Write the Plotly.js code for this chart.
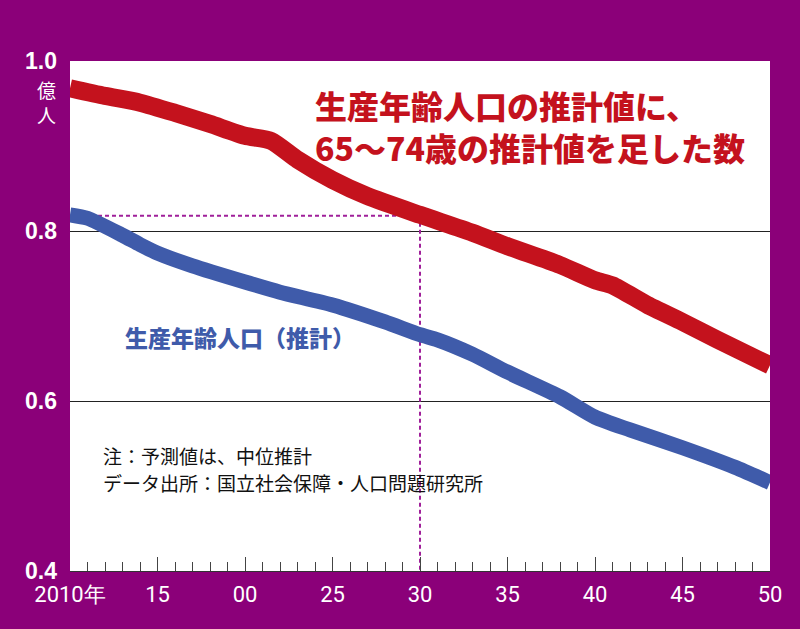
<!DOCTYPE html>
<html>
<head>
<meta charset="utf-8">
<script src="https://cdn.plot.ly/plotly-3.0.1.min.js"></script>
<style>html,body{margin:0;padding:0;background:#8B0079;}#chart{width:800px;height:629px;}</style>
</head>
<body>
<div id="chart"></div>
<script>
// Data (units: 億人)
const years = [2010, 2012, 2014, 2016, 2018, 2020, 2021.5, 2023, 2025, 2027, 2030, 2033, 2035, 2038, 2040, 2041, 2043, 2045, 2047, 2050];
const workingPlusOld = [0.968, 0.959, 0.951, 0.939, 0.926, 0.912, 0.906, 0.884, 0.860, 0.841, 0.819, 0.798, 0.782, 0.760, 0.742, 0.736, 0.713, 0.693, 0.672, 0.642];

const yearsB = [2010, 2011, 2013, 2014, 2015, 2017, 2020, 2022, 2025, 2028, 2030, 2031, 2033, 2035, 2038, 2040, 2042, 2045, 2048, 2050];
const workingAge = [0.819, 0.815, 0.795, 0.784, 0.774, 0.759, 0.740, 0.728, 0.713, 0.693, 0.678, 0.672, 0.655, 0.634, 0.605, 0.581, 0.566, 0.545, 0.522, 0.504];

const refYear = 2030;
const refValue = 0.818;

const xTickVals = [2010, 2015, 2020, 2025, 2030, 2035, 2040, 2045, 2050];
const xTickText = ['2010年', '15', '00', '25', '30', '35', '40', '45', '50'];
const yTickVals = [0.4, 0.6, 0.8, 1.0];
const yTickText = ['0.4', '0.6', '0.8', '1.0'];

const redTitle = '生産年齢人口の推計値に、<br>65～74歳の推計値を足した数';
const blueLabel = '生産年齢人口（推計）';
const noteLines = ['注：予測値は、中位推計', 'データ出所：国立社会保障・人口問題研究所'];

const purple = '#8B0079';
const red = '#C4121D';
const blue = '#3F5BAA';
const cjk = '"Noto Sans CJK JP", "Noto Sans", sans-serif';

const traces = [
  {x: [years[0], refYear, refYear], y: [refValue, refValue, 0.4], mode: 'lines',
   line: {color: '#A0209A', width: 2, dash: '4px,3px'}, hoverinfo: 'skip'},
  {x: yearsB, y: workingAge, mode: 'lines', line: {color: blue, width: 15, shape: 'spline', smoothing: 0.6}},
  {x: years, y: workingPlusOld, mode: 'lines', line: {color: red, width: 18, shape: 'spline', smoothing: 0.6}}
];

const layout = {
  width: 800, height: 629,
  margin: {l: 70, r: 30, t: 61, b: 58},
  paper_bgcolor: purple, plot_bgcolor: '#ffffff',
  showlegend: false,
  font: {family: cjk},
  xaxis: {
    range: [2010, 2050], tickvals: xTickVals, ticktext: xTickText,
    ticks: 'inside', ticklen: 14, tickwidth: 1, tickcolor: '#444',
    minor: {ticks: 'inside', dtick: 1, ticklen: 9, tickwidth: 1, tickcolor: '#444', showgrid: false},
    showline: true, linecolor: '#333', linewidth: 1,
    showgrid: false, zeroline: false,
    tickfont: {family: '"Liberation Sans Narrow", "Roboto", sans-serif', size: 22, color: '#ffffff'},
    ticklabelstandoff: 4,
    fixedrange: true
  },
  yaxis: {
    range: [0.4, 1.0], tickvals: yTickVals, ticktext: yTickText,
    ticks: '', showline: false, zeroline: false,
    showgrid: true, gridcolor: '#222', gridwidth: 1,
    tickfont: {family: '"Liberation Sans", Arial, sans-serif', size: 23, color: '#ffffff', weight: 'bold'},
    ticklabelstandoff: 12,
    fixedrange: true
  },
  annotations: [
    {xref: 'paper', yref: 'paper', x: -0.017, y: 0.92, xanchor: 'right', yanchor: 'middle',
     text: '億<br>人', showarrow: false, align: 'center',
     font: {family: cjk, size: 19, color: '#ffffff'}},
    {xref: 'paper', yref: 'paper', x: 0.347, y: 0.8716, xanchor: 'left', yanchor: 'middle',
     text: redTitle, showarrow: false, align: 'left',
     font: {family: cjk, size: 32, color: red, weight: 900}},
    {xref: 'paper', yref: 'paper', x: 0.076, y: 0.458, xanchor: 'left', yanchor: 'middle',
     text: blueLabel, showarrow: false, align: 'left',
     font: {family: cjk, size: 23, color: blue, weight: 900}},
    {xref: 'paper', yref: 'paper', x: 0.044, y: 0.2255, xanchor: 'left', yanchor: 'middle',
     text: noteLines[0], showarrow: false, align: 'left',
     font: {family: cjk, size: 19, color: '#111111'}},
    {xref: 'paper', yref: 'paper', x: 0.044, y: 0.1745, xanchor: 'left', yanchor: 'middle',
     text: noteLines[1], showarrow: false, align: 'left',
     font: {family: cjk, size: 19, color: '#111111'}}
  ]
};

Plotly.newPlot('chart', traces, layout, {displayModeBar: false, staticPlot: true});
</script>
</body>
</html>
